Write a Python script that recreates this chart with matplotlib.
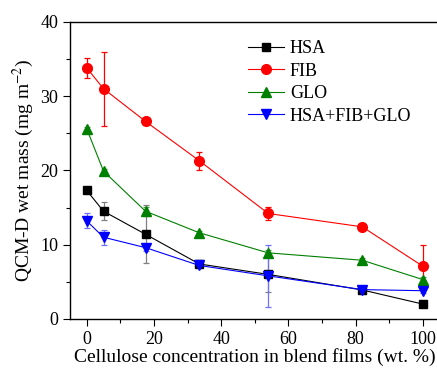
import matplotlib
matplotlib.use("Agg")
import matplotlib.pyplot as plt
import numpy as np

plt.rcParams['font.family'] = ['Liberation Serif', 'DejaVu Serif']
plt.rcParams['mathtext.fontset'] = 'stix'

# cellulose content (wt. %)
conc = [0, 5, 17.5, 33.5, 54, 82, 100]

hsa = [17.3, 14.5, 11.4, 7.4, 6.0, 3.9, 2.0]
hsa_err = [0.3, 1.2, 3.9, 0.4, 2.4, 0.3, 0.3]
fib = [33.8, 31.0, 26.6, 21.3, 14.2, 12.4, 7.1]
fib_err = [1.4, 5.0, 0.3, 1.2, 0.85, 0.3, 2.9]
glo = [25.6, 19.9, 14.5, 11.6, 8.9, 7.9, 5.3]
glo_err = [0.3, 0.3, 0.6, 0.3, 0.4, 0.3, 0.3]
mix = [13.2, 11.0, 9.6, 7.2, 5.8, 3.95, 3.8]
mix_err = [1.0, 1.0, 0.4, 0.3, 4.2, 0.4, 0.3]

series = [
    ("HSA", hsa, hsa_err, "black", "#808080", "s", 6),
    ("FIB", fib, fib_err, "red", "red", "o", 7),
    ("GLO", glo, glo_err, "green", "#50a050", "^", 7),
    ("HSA+FIB+GLO", mix, mix_err, "blue", "#7070ff", "v", 7),
]

fig = plt.figure(figsize=(4.37, 3.77), dpi=100)
ax = fig.add_axes([0.160, 0.154, 0.846, 0.788])

for name, y, e, c, ec, m, ms in series:
    ax.errorbar(conc, y, yerr=e, fmt='none', ecolor=ec, elinewidth=0.9,
                capsize=2.5, capthick=0.9, zorder=2)
    ax.plot(conc, y, color=c, lw=0.8, marker=m, markersize=ms,
            markerfacecolor=c, markeredgecolor=c, label=name, zorder=3)

ax.set_xlim(-5, 105)
ax.set_ylim(0, 40)
ax.set_xticks([0, 20, 40, 60, 80, 100])
ax.set_xticks([10, 30, 50, 70, 90], minor=True)
ax.set_yticks([0, 10, 20, 30, 40])
ax.set_yticks([5, 15, 25, 35], minor=True)
ax.tick_params(which='both', direction='out', labelsize=13, top=False, right=False)
ax.tick_params(which='major', length=5, width=0.8)
ax.tick_params(which='minor', length=3, width=0.8)
ax.spines['right'].set_visible(False)
for s in ['left', 'bottom', 'top']:
    ax.spines[s].set_linewidth(1.0)

ax.set_xlabel("Cellulose concentration in blend films (wt. %)", fontsize=14, labelpad=0)
ax.set_ylabel("QCM-D wet mass (mg m$^{-2}$)", fontsize=14, labelpad=3)

ax.legend(loc='upper left', bbox_to_anchor=(0.463, 0.962), frameon=False,
          fontsize=13, handlelength=2.0, labelspacing=0.3, handletextpad=0.3,
          borderaxespad=0)

fig.savefig("out.png", dpi=100)
